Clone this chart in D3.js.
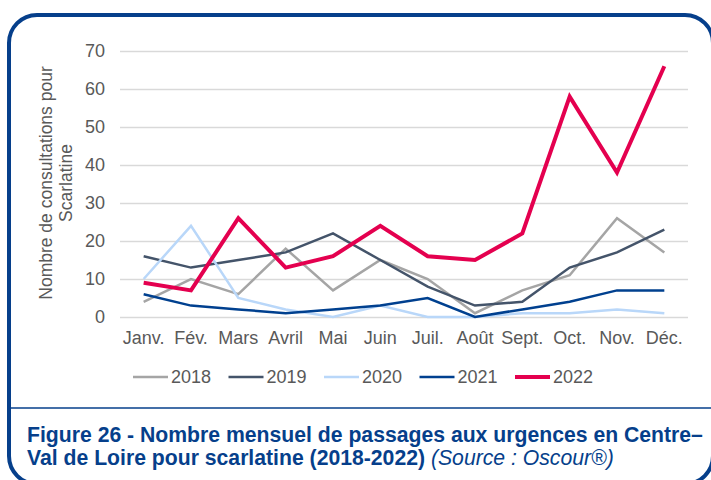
<!DOCTYPE html>
<html><head><meta charset="utf-8">
<script src="https://cdn.jsdelivr.net/npm/d3@7"></script>
<style>body{margin:0;background:#fff;}svg{display:block;font-family:"Liberation Sans",Arial,sans-serif;}</style>
</head><body>
<svg id="c" width="711" height="480"></svg>
<script>
const months = ["Janv.","Fév.","Mars","Avril","Mai","Juin","Juil.","Août","Sept.","Oct.","Nov.","Déc."];
const yTicks = [0,10,20,30,40,50,60,70];
const years = ["2018","2019","2020","2021","2022"];
const v2018 = [4,10,6,18,7,15,10,1,7,11,26,17];
const v2019 = [16,13,15,17,22,15,8,3,4,13,17,23];
const v2020 = [10,24,5,2,0,3,0,0,1,1,2,1];
const v2021 = [6,3,2,1,2,3,5,0,2,4,7,7];
const v2022 = [9,7,26,13,16,24,16,15,22,58,38,66];
const colors = ["#a5a5a5","#44546a","#b9d7f9","#00408f","#e4004f"];
const widths = [2.5,2.5,2.5,2.5,4];
const series = [v2018,v2019,v2020,v2021,v2022];

const svg = d3.select("#c");
const navy = "#063f8b";

// frame
svg.append("rect").attr("x",9).attr("y",15).attr("width",704).attr("height",469)
  .attr("rx",28).attr("fill","none").attr("stroke",navy).attr("stroke-width",4);
svg.append("line").attr("x1",9).attr("x2",713).attr("y1",408).attr("y2",408)
  .attr("stroke",navy).attr("stroke-width",1.6);

const x = d3.scaleBand().domain(months).range([120,688]);
const y = d3.scaleLinear().domain([0,70]).range([317,51]);

// grid
const yAxis = d3.axisLeft(y).tickValues(yTicks).tickSize(-568).tickPadding(15);
const gy = svg.append("g").attr("transform","translate(120,0)").call(yAxis);
gy.select(".domain").remove();
gy.selectAll(".tick line").attr("stroke","#d9d9d9").attr("stroke-width",1.3);
gy.selectAll(".tick text").attr("fill","#595959").style("font-size","18px").style("font-family","Liberation Sans, Arial, sans-serif");

const xAxis = d3.axisBottom(x).tickSize(0).tickPadding(14);
const gx = svg.append("g").attr("transform","translate(0,317)").call(xAxis);
gx.select(".domain").remove();
gx.selectAll(".tick text").attr("fill","#595959").style("font-size","18px").style("font-family","Liberation Sans, Arial, sans-serif");

// y title
const yt = svg.append("text").attr("transform","translate(52,183) rotate(-90)")
  .attr("text-anchor","middle").attr("fill","#595959").style("font-size","17.5px");
yt.append("tspan").attr("x",0).attr("dy",0).text("Nombre de consultations pour");
yt.append("tspan").attr("x",0).attr("dy",20).text("Scarlatine");

// lines
const line = d3.line().x((d,i)=>x(months[i])+x.bandwidth()/2).y(d=>y(d));
series.forEach((s,k)=>{
  svg.append("path").datum(s).attr("d",line).attr("fill","none")
    .attr("stroke",colors[k]).attr("stroke-width",widths[k]).attr("stroke-linejoin","miter");
});

// legend
const lg = svg.append("g");
years.forEach((yr,k)=>{
  const gx0 = 133 + k*95.5;
  lg.append("line").attr("x1",gx0).attr("x2",gx0+35).attr("y1",377).attr("y2",377)
    .attr("stroke",colors[k]).attr("stroke-width",widths[k]);
  lg.append("text").attr("x",gx0+38).attr("y",383).attr("fill","#595959")
    .style("font-size","18px").text(yr);
});

// caption
const cap = svg.append("text").attr("fill",navy).style("font-size","21.2px").style("font-weight","bold");
cap.append("tspan").attr("x",27).attr("y",441.5).text("Figure 26 - Nombre mensuel de passages aux urgences en Centre–");
cap.append("tspan").attr("x",27).attr("y",465).text("Val de Loire pour scarlatine (2018-2022) ");
cap.append("tspan").style("font-weight","normal").style("font-style","italic").text("(Source : Oscour®)");
</script>
</body></html>
